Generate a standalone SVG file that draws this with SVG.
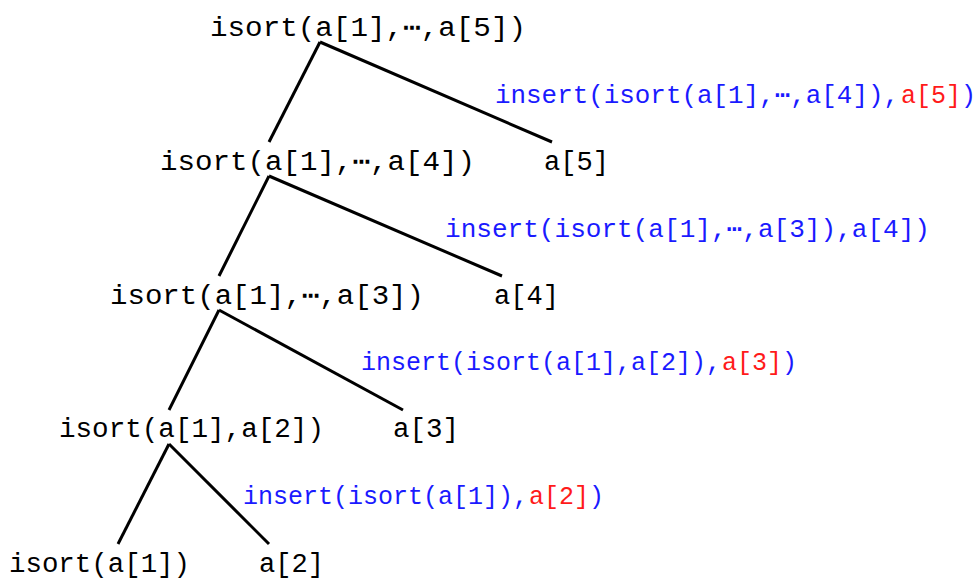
<svg xmlns="http://www.w3.org/2000/svg" width="980" height="579" viewBox="0 0 980 579">
  <style>
    text { font-family: "Liberation Mono", "DejaVu Sans Mono", monospace; }
    .node { fill: #000; font-size: 27px; }
    .lbl { fill: #1a1aff; font-size: 25px; }
    .red { fill: #ff1a1a; font-size: 25px; }
    .edge { stroke: #000; stroke-width: 3; fill: none; }
  </style>
  <rect width="980" height="579" fill="#fff"/>
  <g id="connectors">
    <line class="edge" x1="320" y1="42" x2="269" y2="142"/>
    <line class="edge" x1="320" y1="42" x2="552" y2="142"/>
    <line class="edge" x1="269" y1="176" x2="219" y2="276"/>
    <line class="edge" x1="269" y1="176" x2="502" y2="276"/>
    <line class="edge" x1="219" y1="310" x2="169" y2="410"/>
    <line class="edge" x1="219" y1="310" x2="403" y2="410"/>
    <line class="edge" x1="169" y1="444" x2="118" y2="544"/>
    <line class="edge" x1="169" y1="444" x2="269" y2="544"/>
  </g>
  <g id="n5"><text class="node" x="210" y="36" textLength="316" lengthAdjust="spacingAndGlyphs">isort(a[1],⋯,a[5])</text></g>
  <g id="l5">
    <text class="lbl" x="495" y="103" textLength="404" lengthAdjust="spacingAndGlyphs">insert(isort(a[1],⋯,a[4]),</text>
    <text class="red" x="901" y="103" textLength="60" lengthAdjust="spacingAndGlyphs">a[5]</text>
    <text class="lbl" x="961" y="103" textLength="15" lengthAdjust="spacingAndGlyphs">)</text>
  </g>
  <g id="n4"><text class="node" x="160" y="170" textLength="315" lengthAdjust="spacingAndGlyphs">isort(a[1],⋯,a[4])</text></g>
  <g id="a5"><text class="node" x="544" y="170" textLength="65" lengthAdjust="spacingAndGlyphs">a[5]</text></g>
  <g id="l4"><text class="lbl" x="445" y="237" textLength="485" lengthAdjust="spacingAndGlyphs">insert(isort(a[1],⋯,a[3]),a[4])</text></g>
  <g id="n3"><text class="node" x="110" y="304" textLength="314" lengthAdjust="spacingAndGlyphs">isort(a[1],⋯,a[3])</text></g>
  <g id="a4"><text class="node" x="494" y="304" textLength="65" lengthAdjust="spacingAndGlyphs">a[4]</text></g>
  <g id="l3">
    <text class="lbl" x="361" y="370" textLength="360" lengthAdjust="spacingAndGlyphs">insert(isort(a[1],a[2]),</text>
    <text class="red" x="722" y="370" textLength="60" lengthAdjust="spacingAndGlyphs">a[3]</text>
    <text class="lbl" x="782" y="370" textLength="15" lengthAdjust="spacingAndGlyphs">)</text>
  </g>
  <g id="n2"><text class="node" x="59" y="437" textLength="265" lengthAdjust="spacingAndGlyphs">isort(a[1],a[2])</text></g>
  <g id="a3"><text class="node" x="393" y="437" textLength="66" lengthAdjust="spacingAndGlyphs">a[3]</text></g>
  <g id="l2">
    <text class="lbl" x="243" y="504" textLength="285" lengthAdjust="spacingAndGlyphs">insert(isort(a[1]),</text>
    <text class="red" x="529" y="504" textLength="60" lengthAdjust="spacingAndGlyphs">a[2]</text>
    <text class="lbl" x="589" y="504" textLength="15" lengthAdjust="spacingAndGlyphs">)</text>
  </g>
  <g id="n1"><text class="node" x="9" y="572" textLength="181" lengthAdjust="spacingAndGlyphs">isort(a[1])</text></g>
  <g id="a2"><text class="node" x="259" y="572" textLength="65" lengthAdjust="spacingAndGlyphs">a[2]</text></g>
</svg>
